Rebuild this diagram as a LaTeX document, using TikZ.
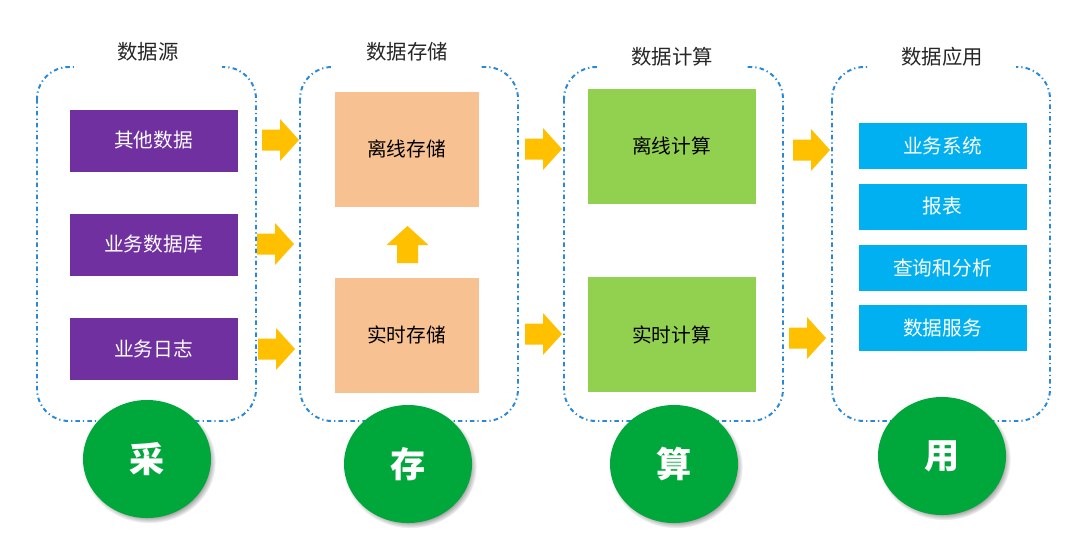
\documentclass[tikz,border=0pt]{standalone}
\usepackage{fontspec}
\setmainfont{Noto Sans CJK SC}
\usepackage{xcolor}
\usetikzlibrary{arrows.meta, positioning, shapes.geometric, shadows}
\definecolor{frameblue}{RGB}{42,137,214}
\definecolor{srcpurple}{RGB}{112,48,160}
\definecolor{storepeach}{RGB}{248,193,145}
\definecolor{calcgreen}{RGB}{146,208,80}
\definecolor{appblue}{RGB}{0,176,240}
\definecolor{arrowgold}{RGB}{255,192,0}
\definecolor{badgegreen}{RGB}{0,168,60}
\definecolor{titlegray}{RGB}{38,38,38}

\begin{document}
\begin{tikzpicture}[x=0.025cm, y=-0.025cm,
    frame/.style={draw=frameblue, line width=1.4pt, rounded corners=0.8cm,
        dash pattern=on 3.2pt off 2.2pt on 0.9pt off 2.2pt},
    ttl/.style={fill=white, text=titlegray, minimum width=3.7cm, minimum height=0.9cm,
        font=\fontsize{14.5}{16}\selectfont},
    card/.style={draw=white, line width=0.4pt, minimum width=4.225cm,
        font=\fontsize{14}{16}\selectfont},
    badge/.style={ellipse, fill=badgegreen, text=white, minimum width=3.2cm, minimum height=2.95cm,
        font=\fontsize{25}{28}\selectfont\bfseries,
        circular drop shadow={shadow xshift=1.5pt, shadow yshift=-2pt, shadow scale=1.04}},
    rarrow/.pic={\fill[arrowgold] (0,-10.5) -- (18,-10.5) -- (18,-21) -- (37,0)
        -- (18,21) -- (18,10.5) -- (0,10.5) -- cycle;}]
    \useasboundingbox (0,0) rectangle (1080,535);

    % Dash-dot frames
    \draw[frame] (37,67) rectangle (256,421);
    \draw[frame] (300,67) rectangle (518,421);
    \draw[frame] (564,67) rectangle (783,421);
    \draw[frame] (832,67) rectangle (1050,421);

    % Titles
    \node[ttl] (t1) at (148,52) {数据源};
    \node[ttl] (t2) at (407,52) {数据存储};
    \node[ttl] (t3) at (672,57) {数据计算};
    \node[ttl] (t4) at (942,57) {数据应用};

    % Data sources
    \node[card, fill=srcpurple, text=white, minimum height=1.575cm] (src1) at (153.5,140.5) {其他数据};
    \node[card, fill=srcpurple, text=white, minimum height=1.575cm] (src2) at (153.5,244.5) {业务数据库};
    \node[card, fill=srcpurple, text=white, minimum height=1.575cm] (src3) at (153.5,349) {业务日志};

    % Storage
    \node[card, fill=storepeach, text=black, minimum width=3.625cm, minimum height=2.9cm] (stoff) at (406.5,149) {离线存储};
    \node[card, fill=storepeach, text=black, minimum width=3.625cm, minimum height=2.9cm] (strt) at (406.5,335) {实时存储};

    % Computing
    \node[card, fill=calcgreen, text=black, minimum height=2.9cm] (cpoff) at (671.5,146) {离线计算};
    \node[card, fill=calcgreen, text=black, minimum height=2.9cm] (cprt) at (671.5,334.5) {实时计算};

    % Applications
    \node[card, fill=appblue, text=white, minimum height=1.175cm] (app1) at (942.5,145.5) {业务系统};
    \node[card, fill=appblue, text=white, minimum height=1.175cm] (app2) at (942.5,206.5) {报表};
    \node[card, fill=appblue, text=white, minimum height=1.175cm] (app3) at (942.5,268) {查询和分析};
    \node[card, fill=appblue, text=white, minimum height=1.175cm] (app4) at (942.5,328) {数据服务};

    % Block arrows
    \pic at (262,140) {rarrow};
    \pic at (257,244) {rarrow};
    \pic at (258,349) {rarrow};
    \pic at (525,149) {rarrow};
    \pic at (525,334) {rarrow};
    \pic at (793,150) {rarrow};
    \pic at (789,338) {rarrow};
    \pic[rotate=90] at (407.5,263) {rarrow};

    % Badges
    \node[badge] (b1) at (147,459) {采};
    \node[badge] (b2) at (408,464) {存};
    \node[badge] (b3) at (674,464) {算};
    \node[badge] (b4) at (942,456) {用};
\end{tikzpicture}
\end{document}
